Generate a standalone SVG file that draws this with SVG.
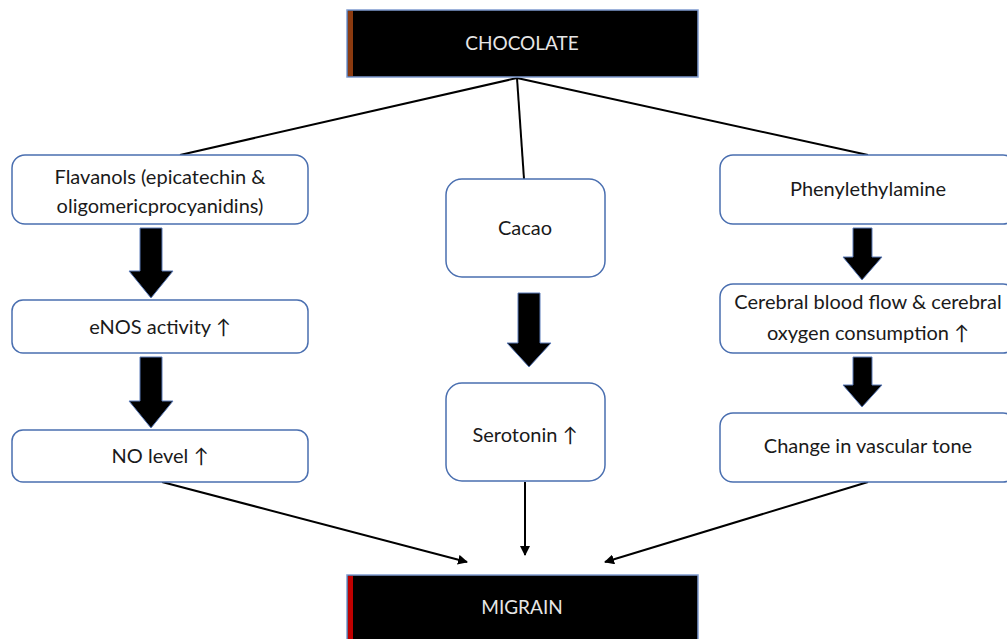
<svg xmlns="http://www.w3.org/2000/svg" width="1007" height="639" viewBox="0 0 1007 639">
<defs>
<style>
.box{fill:#fff;stroke:#4a6fb0;stroke-width:1.5}
.dark{fill:#000;stroke:#7f9bd0;stroke-width:1.5}
.t{font-family:Lato,"Open Sans",sans-serif;font-size:20px;fill:#1a1a1a;text-anchor:middle}
.tw{font-family:Lato,"Open Sans",sans-serif;font-size:19px;fill:#e6e6e6;text-anchor:middle}
.ln{stroke:#000;stroke-width:2;fill:none}
.blk{fill:#000;stroke:#5a7ab8;stroke-width:1}
</style>
<marker id="ah" viewBox="0 0 10 10" refX="9" refY="5" markerWidth="5" markerHeight="5" orient="auto" markerUnits="strokeWidth">
<path d="M0,0 L10,5 L0,10 z" fill="#000"/>
</marker>
</defs>
<rect width="1007" height="639" fill="#fff"/>
<g id="connectors">
<line class="ln" x1="517" y1="78" x2="180" y2="155"/>
<line class="ln" x1="517" y1="78" x2="524" y2="179"/>
<line class="ln" x1="517" y1="78" x2="868" y2="155"/>
<line class="ln" x1="162" y1="482" x2="467" y2="562" marker-end="url(#ah)"/>
<line class="ln" x1="525" y1="482" x2="525" y2="555" marker-end="url(#ah)"/>
<line class="ln" x1="868" y1="482" x2="605" y2="562" marker-end="url(#ah)"/>
<path class="blk" d="M140,228 H162 V271 H173 L151,298 L129,271 H140 Z"/>
<path class="blk" d="M140,357 H162 V401 H173 L151,428 L129,401 H140 Z"/>
<path class="blk" d="M518,293 H540 V343 H551 L529,367 L507,343 H518 Z"/>
<path class="blk" d="M853,228 H872 V257 H882 L862,280 L843,257 H853 Z"/>
<path class="blk" d="M853,357 H872 V385 H882 L862,407 L843,385 H853 Z"/>
</g>
<g id="chocolate">
<rect class="dark" x="347" y="10" width="351" height="67"/>
<rect x="348" y="11" width="5" height="65" fill="#8b3a0f"/>
<text class="tw" x="522" y="50">CHOCOLATE</text>
</g>
<g id="flavanols">
<rect class="box" x="12" y="155" width="296" height="69" rx="13"/>
<text class="t" x="160" y="184">Flavanols (epicatechin &amp;</text>
<text class="t" x="160" y="213">oligomericprocyanidins)</text>
</g>
<g id="enos">
<rect class="box" x="12" y="300" width="296" height="53" rx="11"/>
<text class="t" x="160" y="334">eNOS activity ↑</text>
</g>
<g id="nolevel">
<rect class="box" x="12" y="430" width="296" height="52" rx="11"/>
<text class="t" x="160" y="463">NO level ↑</text>
</g>
<g id="cacao">
<rect class="box" x="446" y="179" width="159" height="98" rx="16"/>
<text class="t" x="525" y="235">Cacao</text>
</g>
<g id="serotonin">
<rect class="box" x="446" y="383" width="159" height="98" rx="16"/>
<text class="t" x="525" y="442">Serotonin ↑</text>
</g>
<g id="phenylethylamine">
<rect class="box" x="720" y="155" width="296" height="69" rx="13"/>
<text class="t" x="868" y="196">Phenylethylamine</text>
</g>
<g id="cerebral">
<rect class="box" x="720" y="284" width="296" height="69" rx="13"/>
<text class="t" x="868" y="309">Cerebral blood flow &amp; cerebral</text>
<text class="t" x="868" y="340">oxygen consumption ↑</text>
</g>
<g id="vascular">
<rect class="box" x="720" y="413" width="296" height="69" rx="13"/>
<text class="t" x="868" y="453">Change in vascular tone</text>
</g>
<g id="migrain">
<rect class="dark" x="347" y="575" width="351" height="70"/>
<rect x="348" y="576" width="5" height="63" fill="#c00000"/>
<text class="tw" x="522" y="614">MIGRAIN</text>
</g>
</svg>
